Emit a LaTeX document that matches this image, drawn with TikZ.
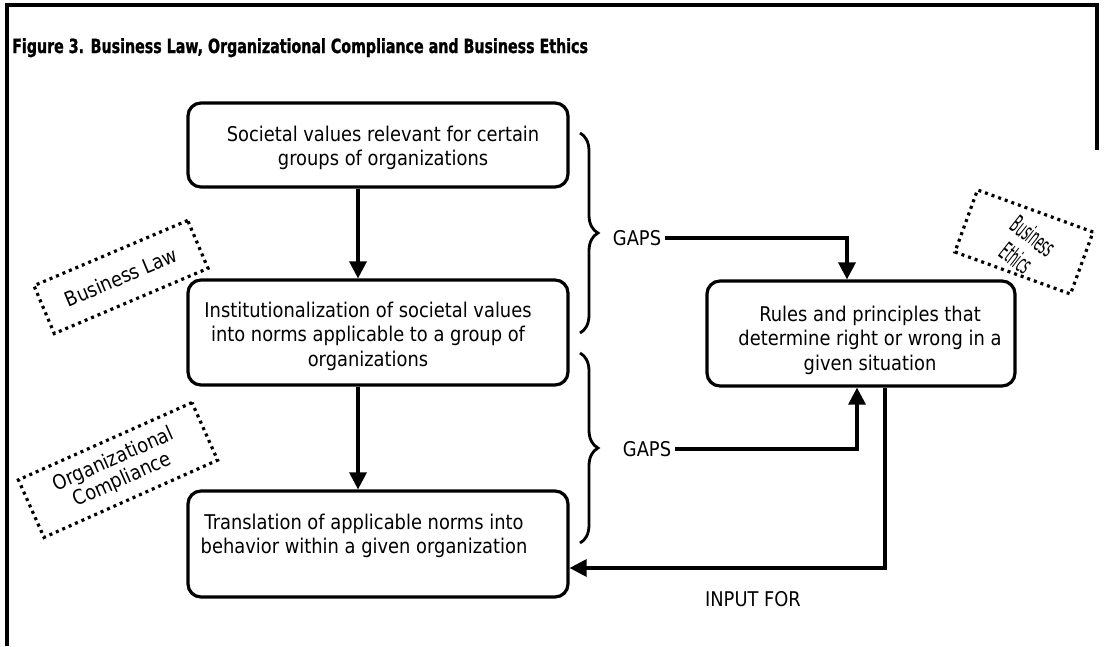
\documentclass[tikz,border=0pt]{standalone}
\usepackage{fontspec}
\setmainfont{DejaVu Sans}[FakeStretch=0.88]
\newfontfamily\titlefont{DejaVu Sans}[FakeStretch=0.73,BoldFeatures={FakeBold=1.2}]
\usetikzlibrary{arrows.meta,decorations.pathreplacing}
\begin{document}
\begin{tikzpicture}[x=1pt,y=-1pt,
  box/.style={draw,line width=3.2pt,rounded corners=13pt,inner sep=0pt},
  txt/.style={align=center,font=\fontsize{20.3}{24.5}\selectfont,inner sep=0pt},
  lbl/.style={font=\fontsize{20.3}{24.5}\selectfont,inner sep=4pt},
  arr/.style={line width=3.2pt,-{Triangle[width=17pt,length=17pt]}},
  dotbox/.style={draw,line width=3.2pt,dash pattern=on 3pt off 4pt,inner sep=0pt,align=center,font=\fontsize{20.3}{22}\selectfont},
  brc/.style={decorate,decoration={brace,amplitude=18pt},line width=2.8pt}]
\useasboundingbox (0,0) rectangle (1106,646);
\draw[line width=3.5pt] (7,646) -- (7,5) -- (1097,5) -- (1097,150);
\node[anchor=base west,inner sep=0pt,font=\titlefont\bfseries\fontsize{19.5}{22}\selectfont] (title) at (12,53) {Figure 3. Business Law, Organizational Compliance and Business Ethics};
\node[box,minimum width=380pt,minimum height=84pt] (b1) at (378,145) {};
\node[txt] (t1) at (383,148) {Societal values relevant for certain\\groups of organizations};
\node[box,minimum width=380pt,minimum height=105pt] (b2) at (378,332.5) {};
\node[txt] (t2) at (368,336) {Institutionalization of societal values\\into norms applicable to a group of\\organizations};
\node[box,minimum width=380pt,minimum height=106pt] (b3) at (378,544) {};
\node[txt] (t3) at (364,536) {Translation of applicable norms into\\behavior within a given organization};
\node[box,minimum width=308pt,minimum height=105pt] (b4) at (861,333.5) {};
\node[txt] (t4) at (870,340) {Rules and principles that\\determine right or wrong in a\\given situation};
\node[lbl] (g1) at (637,238) {GAPS};
\node[lbl] (g2) at (647,449) {GAPS};
\node[lbl] (inp) at (753,599) {INPUT FOR};
\draw[arr] ([xshift=-20pt]b1.south) -- ([xshift=-20pt]b2.north);
\draw[arr] ([xshift=-20pt]b2.south) -- ([xshift=-20pt]b3.north);
\draw[arr] (g1.east) -| ([xshift=-14pt]b4.north);
\draw[arr] (g2.east) -| ([xshift=-4pt]b4.south);
\draw[arr] ([xshift=24pt]b4.south) |- ([yshift=-24pt]b3.east);
\coordinate (br1a) at (580,133); \coordinate (br1b) at (580,333);
\coordinate (br2a) at (580,353); \coordinate (br2b) at (580,543);
\draw[brc] (br1a) -- (br1b);
\draw[brc] (br2a) -- (br2b);
\node[dotbox,rotate=23,minimum width=167pt,minimum height=52pt] (bl) at (121,277) {Business Law};
\node[dotbox,rotate=24,minimum width=190pt,minimum height=63pt] (oc) at (118,470) {Organizational\\Compliance};
\node[dotbox,rotate=-20,minimum width=123pt,minimum height=66pt] (be) at (1024,242) {};
\node[rotate=-38,align=center,inner sep=0pt,font=\fontsize{20}{28}\selectfont] (bet) at (1025,247) {\scalebox{0.62}[1.25]{Business}\\\scalebox{0.62}[1.25]{Ethics}};
\end{tikzpicture}
\end{document}
